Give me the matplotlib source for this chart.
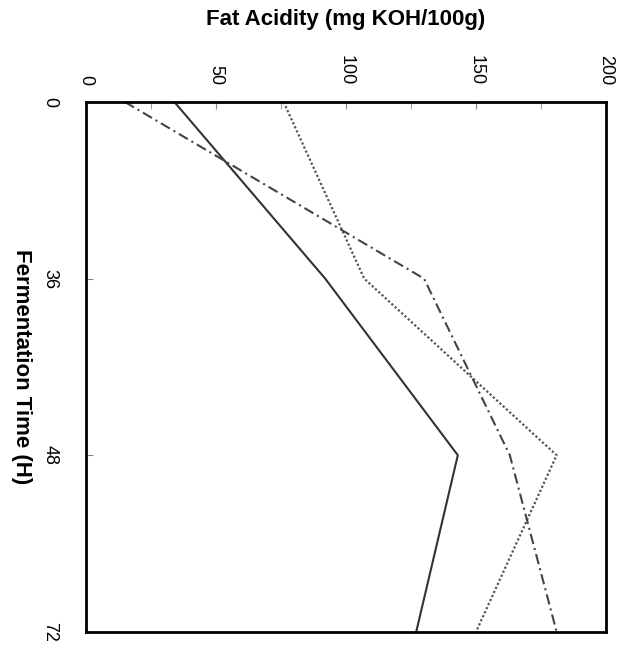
import matplotlib
matplotlib.use('Agg')
from matplotlib import pyplot as plt

# fermentation time categories (hours) and fat acidity (mg KOH/100g)
times = ['0', '36', '48', '72']
solid_vals = [34, 92, 143, 127]
dotted_vals = [76, 107, 181, 150]
dashdot_vals = [15, 130, 163, 181]

acid_ticks = [0, 50, 100, 150, 200]

plt.rcParams['font.family'] = ['Liberation Sans', 'DejaVu Sans']

fig = plt.figure(figsize=(6.28, 6.5), dpi=100)
ax = fig.add_axes([0.137, 0.028, 0.828, 0.815])

pos = list(range(len(times)))
ax.plot(solid_vals, pos, color='#333333', lw=1.5, ls='-')
ax.plot(dotted_vals, pos, color='#555555', lw=1.6, ls=(0, (1, 1)))
ax.plot(dashdot_vals, pos, color='#444444', lw=1.5, ls=(0, (5, 2, 1, 2)))

ax.set_xlim(0, 200)
ax.set_ylim(len(times) - 1, 0)

ax.xaxis.tick_top()
ax.xaxis.set_label_position('top')
ax.set_xticks(acid_ticks)
ax.set_xticklabels([str(t) for t in acid_ticks], rotation=-90, fontsize=13)
ax.set_xticks(range(0, 201, 25), minor=True)
ax.tick_params(axis='x', which='both', direction='in', length=5, color='#888888', pad=12)

ax.set_yticks(pos)
ax.set_yticklabels(times, rotation=-90, fontsize=13, va='center')
ax.tick_params(axis='y', direction='in', length=5, color='#888888', pad=20)

for s in ax.spines.values():
    s.set_linewidth(2)
    s.set_color('black')

lab_font = ['Liberation Sans Narrow', 'Liberation Sans', 'DejaVu Sans']
ax.set_xlabel('Fat Acidity (mg KOH/100g)', fontsize=16, fontweight='bold',
              family=lab_font, labelpad=22)
ax.set_ylabel('Fermentation Time (H)', fontsize=16, fontweight='bold',
              family=lab_font, rotation=-90, labelpad=22)

fig.savefig('out.png', dpi=100)
